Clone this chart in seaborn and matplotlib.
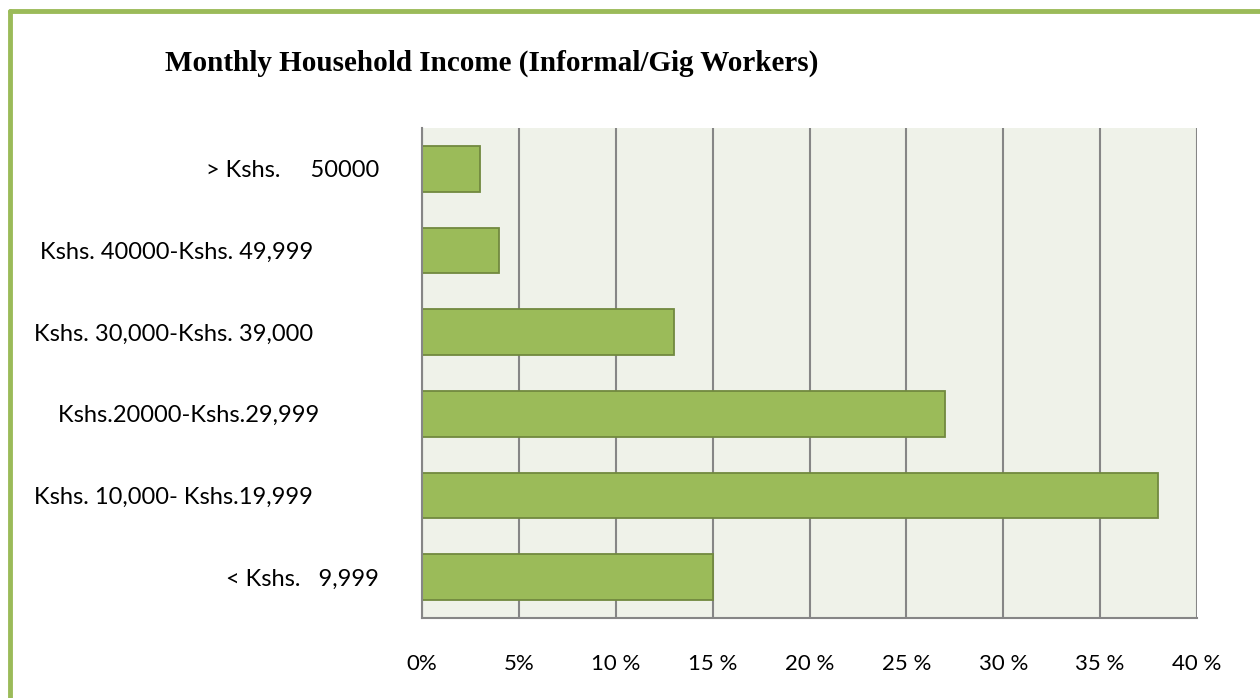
import pandas as pd
import matplotlib.pyplot as plt
import seaborn as sns

categories = [
    '> Kshs.     50000',
    'Kshs. 40000-Kshs. 49,999           ',
    'Kshs. 30,000-Kshs. 39,000           ',
    'Kshs.20000-Kshs.29,999          ',
    'Kshs. 10,000- Kshs.19,999           ',
    '< Kshs.   9,999',
]
shares = [3, 4, 13, 27, 38, 15]
tick_values = [0, 5, 10, 15, 20, 25, 30, 35, 40]
tick_labels = ['0%', '5%', '10 %', '15 %', '20 %', '25 %', '30 %', '35 %', '40 %']

df = pd.DataFrame({'bracket': categories, 'share': shares})

sns.set_theme(style="white")
plt.rcParams['font.family'] = ['Lato', 'DejaVu Sans']
plt.rcParams['text.color'] = 'black'
plt.rcParams['xtick.color'] = 'black'
plt.rcParams['ytick.color'] = 'black'

fig = plt.figure(figsize=(12.6, 6.98), dpi=100)
ax = fig.add_axes([422 / 1260, 1 - 618 / 698, 775 / 1260, 490 / 698])

sns.barplot(
    data=df,
    x='share',
    y='bracket',
    order=categories,
    orient='h',
    color='#9BBB59',
    edgecolor='#71893F',
    linewidth=1.3,
    width=0.56,
    saturation=1,
    ax=ax
)

ax.set_facecolor('#EFF2E9')
ax.set_xlim(0, 40)
ax.set_xticks(tick_values)
ax.set_xticklabels(tick_labels, fontsize=16)
ax.set_yticklabels(categories, fontsize=17)
ax.set_xlabel('')
ax.set_ylabel('')
ax.tick_params(axis='x', length=0, pad=26)
ax.tick_params(axis='y', length=0, pad=31)

ax.grid(axis='x', color='#868686', linewidth=1.5)
ax.set_axisbelow(True)
for side in ['top', 'right']:
    ax.spines[side].set_visible(False)
for side in ['left', 'bottom']:
    ax.spines[side].set_color('#868686')
    ax.spines[side].set_linewidth(1.5)

fig.text(165 / 1260, 1 - 63 / 698, 'Monthly Household Income (Informal/Gig Workers)',
         family='Liberation Serif', fontweight='bold', fontsize=21,
         ha='left', va='center')

# green frame (top and left edges visible)
fig.add_artist(plt.Line2D([10 / 1260, 1.0], [1 - 11 / 698, 1 - 11 / 698],
                          color='#9BBB59', linewidth=3.5, transform=fig.transFigure))
fig.add_artist(plt.Line2D([10 / 1260, 10 / 1260], [0, 1 - 11 / 698],
                          color='#9BBB59', linewidth=3.5, transform=fig.transFigure))

fig.savefig('out.png', dpi=100)
